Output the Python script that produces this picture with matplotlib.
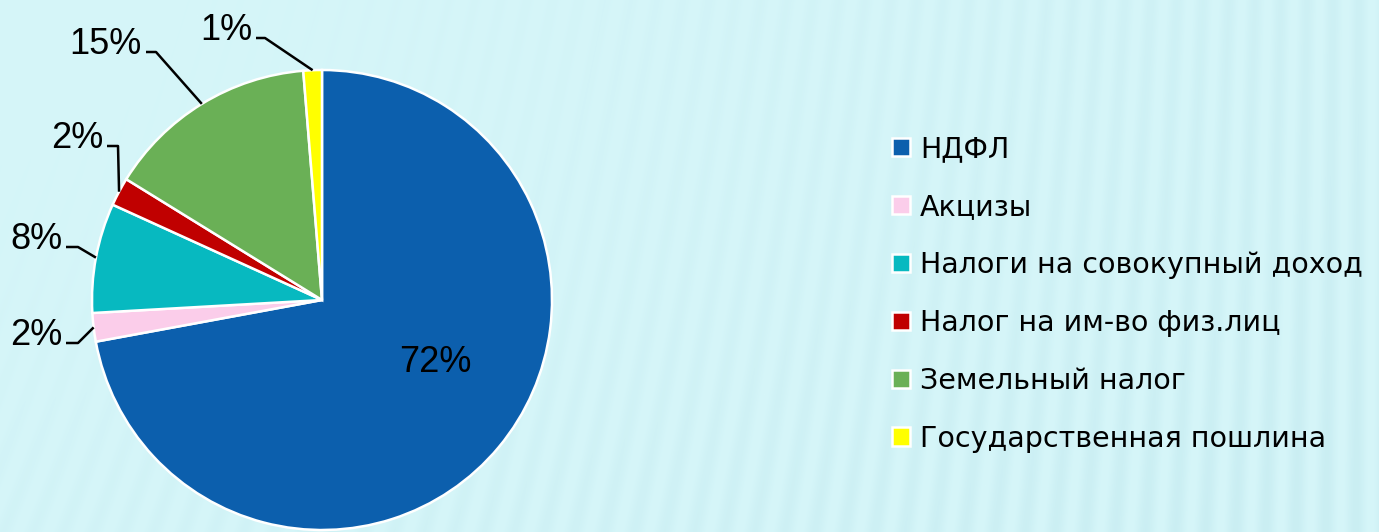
import numpy as np
import matplotlib
matplotlib.use("Agg")
import matplotlib.pyplot as plt

# ---- data ----
categories = ["НДФЛ", "Акцизы", "Налоги на совокупный доход",
              "Налог на им-во физ.лиц", "Земельный налог", "Государственная пошлина"]
shares = [72.1, 2.0, 7.7, 2.0, 14.9, 1.3]
colors = ["#0c5fad", "#fbcdea", "#07b9c0", "#c00000", "#6ab056", "#ffff00"]

W, H = 1379, 532
fig = plt.figure(figsize=(W / 100, H / 100), dpi=100)

# ---- background ----
bg = fig.add_axes([0, 0, 1, 1], zorder=-5)
yy, xx = np.mgrid[0:H, 0:W]
base = np.array([214, 246, 249]) / 255.0
dark = np.array([190, 230, 236]) / 255.0
phase = (xx + 0.35 * yy * (1 - xx / W)) / 26.0 * 2 * np.pi
stripe = 0.5 + 0.5 * np.sin(phase)
amp = np.clip(0.05 + 0.7 * (xx / W) ** 1.5 + 0.35 * (yy / H) ** 2, 0, 1)
t = np.clip(stripe * amp, 0, 1)[..., None] * 0.5
img = base * (1 - t) + dark * t
bg.imshow(img, aspect="auto", extent=[0, W, H, 0])
bg.set_axis_off()

# ---- pie ----
cx, cy, R = 322, 300, 230
ax = fig.add_axes([(cx - R) / W, (H - cy - R) / H, 2 * R / W, 2 * R / H])
wedges, _ = ax.pie(shares, colors=colors, startangle=90, counterclock=False,
                   radius=1, wedgeprops=dict(edgecolor="white", linewidth=1.8))
ax.set_aspect("auto")
ax.set_xlim(-1, 1)
ax.set_ylim(-1, 1)
ax.set_axis_off()

lab_font = dict(family=["Liberation Sans", "DejaVu Sans"], fontsize=26, color="black")

def px2d(px, py):
    return (px - cx) / R, (cy - py) / R

# inside label for the biggest slice
ax.text(*px2d(435, 362), f"{round(shares[0])}%", ha="center", va="center", **lab_font)

# outside labels: (elbow start x, elbow end x, elbow y) in pixels
elbows = {1: (66, 78, 343), 2: (66, 78, 247), 3: (107, 118, 146),
          4: (146, 156, 52), 5: (256, 265, 38)}
for i, (x0, x1, ye) in elbows.items():
    w = wedges[i]
    ang = np.deg2rad((w.theta1 + w.theta2) / 2)
    ex, ey = np.cos(ang), np.sin(ang)
    a = px2d(x0, ye)
    b = px2d(x1, ye)
    ax.plot([a[0], b[0], ex], [a[1], b[1], ey], color="black", lw=1.8,
            solid_capstyle="butt", clip_on=False)
    ax.text(*px2d(x0 - 4, ye + 2), f"{round(shares[i])}%", ha="right",
            va="baseline", **lab_font)

# ---- legend ----
leg_fs = 20.5
leg = fig.legend(wedges, categories, loc="upper left",
                 bbox_to_anchor=(878 / W, 1 - 121 / H), frameon=False,
                 prop=dict(family=["DejaVu Sans"], size=leg_fs),
                 handlelength=0.62, handleheight=0.62, handletextpad=0.35,
                 labelspacing=1.05, borderpad=0)

fig.savefig("out.png", dpi=100)
